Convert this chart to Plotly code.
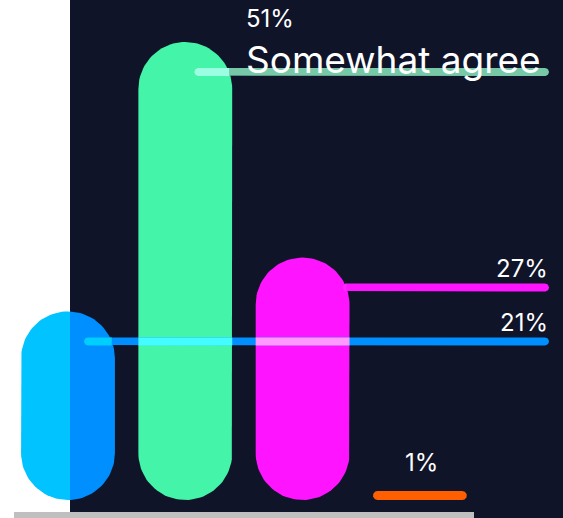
import math
import plotly.graph_objects as go

# Survey answers and their shares (percent)
categories = ["Strongly agree", "Somewhat agree", "Somewhat disagree", "Strongly disagree"]
values = [21, 51, 27, 1]
value_labels = ["21%", "51%", "27%", "1%"]

# Styling
bar_colors = ["#008FFF", "#44F5A9", "#FF14FF", "#FF5F00"]
line_colors = ["#008FFF", "#76C8A6", "#FF14FF", "#FF5F00"]
line_start_px = [16, 9, 40, 0]   # leader line start, pixels right of bar centre
strip_tint = "#00C3FF"           # pill colour where it spills over the white strip
NAVY = "#0F1429"
FONT = "Inter"

W, H = 563, 518
STRIP_PX = 70                    # white strip on the left
CAT_PX = 117.3                   # pixels per category step
FIRST_PX = 68                    # pixel centre of first category
BASE_PX = 500                    # pixel row of the value 0
UNIT_PX = 8.98                   # pixels per percent
BAR_W = 0.8                      # bar width as fraction of a category step
LINE_PX = 8                      # thickness of leader lines
LINE_DROP_PX = 30                # leader line sits this far below the bar top
LINE_END_PX = 549
SMALL_VALUE = 5                  # below this no leader line is drawn


def to_dx(px):
    return (px - FIRST_PX) / CAT_PX


def to_dy(py):
    return (BASE_PX - py) / UNIT_PX


def from_dx(x):
    return FIRST_PX + x * CAT_PX


def from_dy(y):
    return BASE_PX - y * UNIT_PX


def rounded_poly(x0, x1, y0, y1, n=24):
    """Fully rounded rectangle in pixel space (y0 top, y1 bottom)."""
    r = min(x1 - x0, y1 - y0) / 2.0
    corners = [
        (x1 - r, y0 + r, -90, 0),
        (x1 - r, y1 - r, 0, 90),
        (x0 + r, y1 - r, 90, 180),
        (x0 + r, y0 + r, 180, 270),
    ]
    xs, ys = [], []
    for cx, cy, a0, a1 in corners:
        for i in range(n + 1):
            t = math.radians(a0 + (a1 - a0) * i / n)
            xs.append(cx + r * math.cos(t))
            ys.append(cy + r * math.sin(t))
    xs.append(xs[0])
    ys.append(ys[0])
    return xs, ys


def clip_x(xs, lo, hi):
    return [min(max(x, lo), hi) for x in xs]


def hex_rgb(c):
    c = c.lstrip("#")
    return [int(c[i:i + 2], 16) for i in (0, 2, 4)]


def screen(c1, c2):
    a, b = hex_rgb(c1), hex_rgb(c2)
    out = [round(255 - (255 - p) * (255 - q) / 255) for p, q in zip(a, b)]
    return "rgb({},{},{})".format(*out)


fig = go.Figure()


def add_poly(xs_px, ys_px, color):
    fig.add_trace(go.Scatter(
        x=[to_dx(v) for v in xs_px], y=[to_dy(v) for v in ys_px],
        mode="lines", line=dict(width=0, color=color),
        fill="toself", fillcolor=color, hoverinfo="skip", showlegend=False,
    ))


# Geometry of each bar in pixel space
bars = []
for i, v in enumerate(values):
    cx = from_dx(i)
    half = BAR_W * CAT_PX / 2
    top = from_dy(v)
    bars.append(dict(cx=cx, x0=cx - half, x1=cx + half, top=top, bottom=BASE_PX,
                     r=min(2 * half, BASE_PX - top) / 2))

# Bars
for i, b in enumerate(bars):
    xs, ys = rounded_poly(b["x0"], b["x1"], b["top"], b["bottom"])
    if b["x0"] < STRIP_PX:
        add_poly(clip_x(xs, -1e9, STRIP_PX), ys, strip_tint)
        add_poly(clip_x(xs, STRIP_PX, 1e9), ys, bar_colors[i])
    else:
        add_poly(xs, ys, bar_colors[i])


def bar_span_at(b, y):
    """Horizontal extent of a bar at pixel row y, or None."""
    if y < b["top"] or y > b["bottom"]:
        return None
    cy = b["top"] + b["r"]
    if y < cy:
        d = math.sqrt(max(b["r"] ** 2 - (cy - y) ** 2, 0))
        return b["cx"] - d, b["cx"] + d
    return b["x0"], b["x1"]


# Leader lines, screen-blended where they cross the bars
annotations = []
top_idx = values.index(max(values))
for i, b in enumerate(bars):
    if values[i] < SMALL_VALUE:
        annotations.append(dict(x=to_dx(b["cx"] + 2), y=to_dy(b["top"] - 29),
                                text=value_labels[i], xanchor="center", yanchor="middle",
                                font=dict(size=24, color="white", family=FONT)))
        continue
    ly = b["top"] + LINE_DROP_PX
    s, e = b["cx"] + line_start_px[i], LINE_END_PX
    xs, ys = rounded_poly(s, e, ly - LINE_PX / 2, ly + LINE_PX / 2, n=10)
    add_poly(xs, ys, line_colors[i])
    for j, other in enumerate(bars):
        span = bar_span_at(other, ly)
        if span is None:
            continue
        a, c = max(s, span[0]), min(e, span[1])
        if c <= a:
            continue
        add_poly(clip_x(xs, a, c), ys, screen(line_colors[i], bar_colors[j]))

    if i == top_idx:
        lx = to_dx(b["x1"] + 12)
        annotations.append(dict(x=lx, y=to_dy(b["top"] - 24), text=value_labels[i],
                                xanchor="left", yanchor="middle",
                                font=dict(size=24, color="white", family=FONT)))
        annotations.append(dict(x=lx, y=to_dy(ly - 13), text=categories[i],
                                xanchor="left", yanchor="middle",
                                font=dict(size=37, color="white", family=FONT)))
    else:
        annotations.append(dict(x=to_dx(LINE_END_PX + 1), y=to_dy(ly - 19),
                                text=value_labels[i], xanchor="right", yanchor="middle",
                                font=dict(size=24, color="white", family=FONT)))

for a in annotations:
    a.update(showarrow=False, xref="x", yref="y")

fig.update_layout(
    width=W, height=H,
    margin=dict(l=0, r=0, t=0, b=0),
    paper_bgcolor="white", plot_bgcolor="white",
    showlegend=False,
    xaxis=dict(range=[to_dx(0), to_dx(W)], visible=False, fixedrange=True),
    yaxis=dict(range=[to_dy(H), to_dy(0)], visible=False, fixedrange=True),
    annotations=annotations,
    shapes=[
        dict(type="rect", xref="paper", yref="paper", x0=STRIP_PX / W, x1=1, y0=0, y1=1,
             fillcolor=NAVY, line=dict(width=0), layer="below"),
        dict(type="rect", xref="paper", yref="paper", x0=14 / W, x1=474 / W, y0=0, y1=6 / H,
             fillcolor="#BFBFBF", line=dict(width=0), layer="above"),
    ],
)

fig.write_html("out.html", config=dict(displayModeBar=False))
